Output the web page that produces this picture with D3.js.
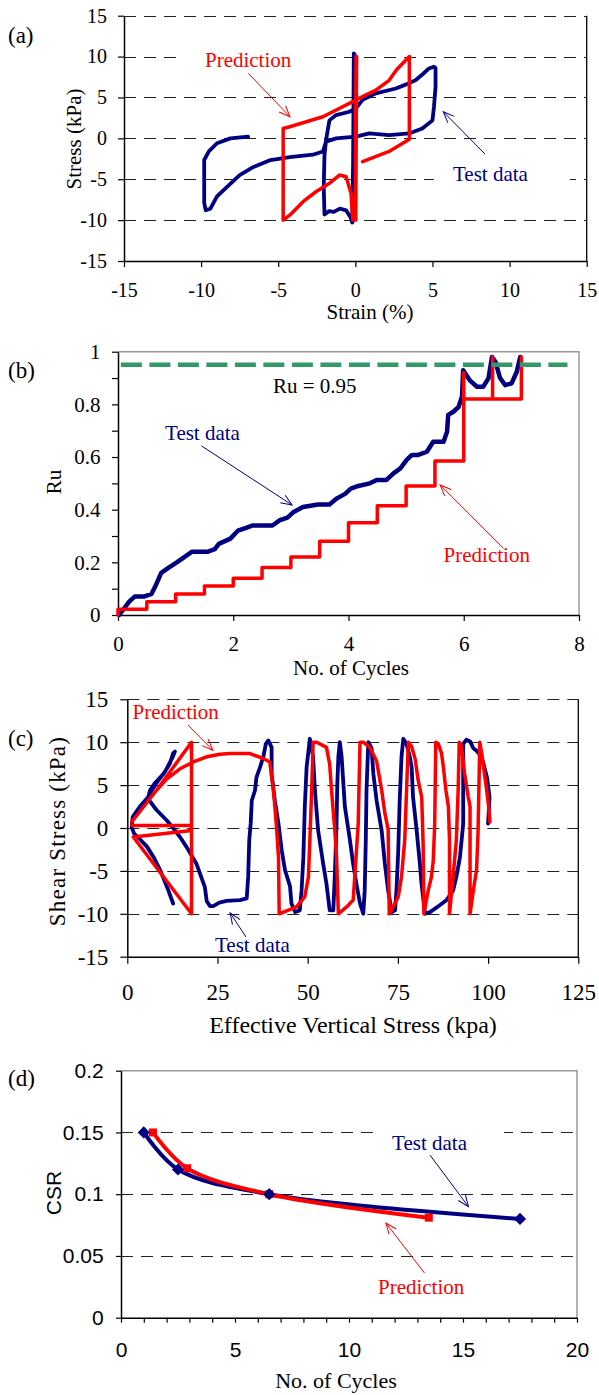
<!DOCTYPE html>
<html>
<head>
<meta charset="utf-8">
<script src="https://cdn.jsdelivr.net/npm/d3@7"></script>
<style>
body { margin: 0; background: #fff; }
svg { display: block; }
</style>
</head>
<body>
<svg id="fig" width="599" height="1395"></svg>
<script>
// (a) stress vs strain
const strainTestA = [0, -0.1, -0.17, -0.05, -0.2, -0.3, -0.6, -1.0, -1.4, -1.7, -2.0, -2.05, -2.0, -1.9, -1.68, -1.25, -0.39, 0.04, 0.47, 1.33, 2.62, 3.3, 3.9, 4.4, 4.77, 5.1, 5.2, 5.2, 5.1, 5.0, 4.34, 3.48, 2.19, 0.9, 0.04, -1.25, -1.9, -2.1, -2.75, -4.25, -5.5, -6.6, -7.5, -8.3, -8.97, -9.4, -9.7, -9.8, -9.8, -9.5, -8.97, -8.1, -6.95];
const stressTestA = [0, 10.4, -10.2, 10.3, -10.3, -9.7, -8.8, -8.6, -9.0, -8.9, -9.3, -6.0, -2.0, -0.2, 2.2, 2.85, 3.25, 3.67, 4.7, 5.5, 6.1, 6.6, 7.1, 7.9, 8.55, 8.75, 8.6, 6.3, 3.9, 2.2, 1.2, 0.6, 0.4, 0.6, 0.2, 0, -0.4, -1.6, -2.0, -2.3, -2.65, -3.5, -4.5, -5.9, -7.1, -8.6, -8.8, -7.9, -2.65, -1.6, -0.6, 0, 0.2];
const strainPredA = [0, 0.05, 0.0, 0.08, 0.03, -0.17, -0.28, -0.6, -1.03, -1.68, -2.53, -3.39, -4.25, -4.68, -4.68, -4.25, -2.1, -0.39, 0.47, 1.33, 2.19, 2.66, 3.5, 3.5, 2.19, 0.47];
const stressPredA = [0, 10, -10, 10, -10, -10, -6.7, -4.7, -4.49, -5.5, -6.5, -7.75, -9.4, -10, 1.2, 1.42, 2.64, 4.28, 5.1, 5.9, 7.1, 8.35, 10, -0.1, -1.6, -2.86];
const ticksA = [-15, -10, -5, 0, 5, 10, 15];

// (b) Ru vs number of cycles
const cyclesTestB = [0.02, 0.09, 0.19, 0.29, 0.45, 0.58, 0.65, 0.75, 0.88, 1.02, 1.15, 1.28, 1.55, 1.68, 1.75, 1.95, 2.08, 2.21, 2.34, 2.68, 2.81, 2.94, 3.04, 3.21, 3.47, 3.67, 3.8, 3.94, 4.04, 4.17, 4.37, 4.49, 4.66, 4.78, 4.9, 5.01, 5.1, 5.21, 5.36, 5.47, 5.65, 5.71, 5.73, 5.82, 5.91, 5.97, 5.99, 6.11, 6.23, 6.34, 6.43, 6.49, 6.55, 6.63, 6.72, 6.83, 6.92, 6.98];
const ruTestB = [0, 0.02, 0.05, 0.07, 0.07, 0.08, 0.11, 0.16, 0.18, 0.2, 0.22, 0.24, 0.24, 0.25, 0.27, 0.29, 0.32, 0.33, 0.34, 0.34, 0.36, 0.37, 0.39, 0.41, 0.42, 0.42, 0.443, 0.46, 0.48, 0.49, 0.5, 0.513, 0.513, 0.538, 0.557, 0.589, 0.608, 0.608, 0.62, 0.658, 0.658, 0.696, 0.76, 0.772, 0.79, 0.83, 0.93, 0.89, 0.867, 0.867, 0.9, 0.98, 0.962, 0.9, 0.873, 0.88, 0.924, 0.98];
const cyclesPredB = [0, 0, 0.5, 0.5, 1, 1, 1.5, 1.5, 2, 2, 2.5, 2.5, 3, 3, 3.5, 3.5, 4, 4, 4.5, 4.5, 5, 5, 5.5, 5.5, 6, 6, 6, 6.5, 6.5, 6.5, 7, 7];
const ruPredB = [0, 0.022, 0.022, 0.05, 0.05, 0.08, 0.08, 0.11, 0.11, 0.14, 0.14, 0.18, 0.18, 0.22, 0.22, 0.28, 0.28, 0.35, 0.35, 0.415, 0.415, 0.49, 0.49, 0.585, 0.585, 0.92, 0.82, 0.82, 0.98, 0.82, 0.82, 0.98];
const ruLimit = 0.95;
const ticksBx = [0, 2, 4, 6, 8];
const ticksBy = d3.range(0, 11).map(k => k / 10);

// (c) shear stress vs effective vertical stress
const sigmaTestC = [12.7, 11.4, 9.1, 7.3, 5.5, 3.7, 1.9, 1.2, 1.5, 3.5, 5.8, 6.3, 7.6, 10, 11.8, 12.7, 13.2, 12.5, 10.5, 8, 6.2, 5.8, 6.3, 8.1, 10.9, 12.7, 14.6, 16.4, 19.2, 21.5, 22, 22.9, 23.8, 25.5, 27.5, 31.2, 33.1, 33.5, 33.8, 34.2, 34.5, 35.4, 35.8, 36.8, 37.7, 38.4, 39.1, 40, 40, 40.9, 41.9, 42.8, 43.7, 45.1, 45.5, 46.5, 47.8, 48.3, 48.8, 49.2, 49.7, 50.6, 51.5, 52, 52.9, 54.3, 55.2, 56.1, 57.1, 57.5, 58, 58.2, 58.5, 58.9, 59.4, 59.9, 60.3, 61.7, 62.6, 63.5, 64.5, 65.4, 65.8, 66.1, 66.3, 66.8, 67.7, 68.2, 69.1, 70.5, 71.4, 72.3, 73.3, 74.2, 74.6, 75.1, 75.5, 76, 76.5, 77.4, 78.3, 78.8, 79.2, 80.2, 81.1, 81.5, 82.5, 83.9, 86.6, 88.5, 90.3, 91.2, 92.2, 93.1, 93.1, 94, 95, 95.9, 96.8, 98.2, 99.7, 100.4, 100];
const tauTestC = [-8.8, -7.3, -4.9, -3.4, -2.2, -1.4, -0.66, 0.1, 1.3, 2.5, 3.6, 4.4, 5.2, 6.3, 7.5, 8.7, 8.9, 8.2, 6.6, 5.2, 4.0, 3.4, 3.1, 2.1, 0.9, 0, -1.05, -2.2, -4.2, -6.9, -8.5, -9.1, -9.1, -8.7, -8.5, -8.4, -8.2, -5.7, -1.4, 0.5, 3.2, 4.4, 5.9, 7.1, 8.3, 9.8, 10.2, 9.4, 6.3, 3.2, 0.5, -2.6, -4.9, -6.8, -8.8, -9.8, -9.6, -7.3, -3.4, 2.5, 7.1, 10.4, 8.3, 4.4, -0.3, -4.2, -6.5, -9.6, -9.6, -5.7, 0.5, 5.1, 8.3, 10, 8.3, 5.1, 2.5, -1.4, -4.2, -6.5, -8.8, -10, -7.3, -1.4, 4.4, 10, 9.3, 6.3, 3.2, -0.3, -4.2, -7.3, -9.8, -9.6, -7.3, -2.6, 3.2, 8.3, 10.4, 9.8, 8.3, 7.1, 3.6, -0.3, -4.2, -6.3, -10, -9.8, -9, -8.4, -7.3, -5.7, -3.4, 0.5, 9.8, 10.3, 10.1, 9.3, 9, 8.3, 5.9, 3.6, 0.5];
const sigmaPredC = [1.2, 17.8, 17.8, 1.66, 17.8, 17.8, 8.1, 1.2, 8.1, 10.9, 14.6, 18.3, 22, 25.7, 28.4, 34, 37.7, 39.5, 40.5, 40.9, 41.4, 41.9, 42.1, 46.9, 49.2, 50.2, 50.6, 51.1, 51.5, 52.5, 55.2, 56.1, 56.6, 57.5, 58, 58.5, 60.8, 62.6, 63.1, 64, 64.5, 65.4, 67.2, 69.1, 70.5, 71.4, 72.3, 72.6, 73.7, 75.1, 76, 76.9, 77.4, 77.9, 78.8, 79.8, 80.6, 81.6, 82.0, 82.2, 83.4, 84.3, 84.8, 85.2, 85.5, 86.2, 87.1, 87.6, 88.3, 89, 89.3, 89.3, 90.3, 91.2, 91.7, 92, 92.6, 93.5, 94.5, 95, 95, 95.9, 96.8, 97.2, 97.7, 98.2, 99, 99.6, 100.2, 100.5];
const tauPredC = [0.3, 0.3, -0.3, -1.05, -10, 10, 4.4, 0.7, 4.4, 5.7, 6.9, 7.7, 8.3, 8.6, 8.67, 8.67, 8.1, 7.7, 4.4, 2.5, -0.2, -3.4, -10, -9.2, -8.0, -5.7, -1.4, 4.4, 10, 10, 9.4, 7.4, 4.4, -0.2, -3.4, -10, -9.2, -8.4, -5.3, 0.5, 10, 10, 9.4, 7.8, 4.4, 1.7, -0.2, -10, -9.2, -8, -5.7, -1.4, 4.4, 10, 9.5, 8.0, 5.6, 3.6, -2, -10, -7.3, -5.7, -3.8, 0.5, 10, 9.8, 8.7, 7.1, 4.4, 2.5, -1.4, -10, -5.7, -1.4, 4.4, 10, 9.6, 6.3, 3.6, 2.5, -10, -7.3, -4.9, -0.7, 10, 8.7, 6.3, 4.4, 2.3, 0.7];
const ticksCx = [0, 25, 50, 75, 100, 125];
const ticksCy = [-15, -10, -5, 0, 5, 10, 15];

// (d) CSR vs number of cycles
const cyclesTestD = [1, 2.5, 6.5, 17.5];
const csrTestD = [0.15, 0.12, 0.10, 0.08];
const cyclesPredD = [1.4, 2.9, 6.5, 13.5];
const csrPredD = [0.15, 0.121, 0.10, 0.081];
const ticksDx = d3.range(0, 21);
const ticksDy = [0, 0.05, 0.1, 0.15, 0.2];

const svg = d3.select('#fig');
const serif = '"Liberation Serif", "Times New Roman", serif';
const sans = '"Liberation Sans", Arial, sans-serif';
const navy = '#000080', red = '#ff0000';

const defs = svg.append('defs');
[['head-navy', navy], ['head-red', red]].forEach(([id, c]) => {
	defs.append('marker').attr('id', id)
		.attr('viewBox', '-12 -6 14 12')
		.attr('markerUnits', 'userSpaceOnUse')
		.attr('markerWidth', 14).attr('markerHeight', 12)
		.attr('refX', 0).attr('refY', 0)
		.attr('orient', 'auto')
		.append('path').attr('d', 'M-11,-4.5L0,0L-11,4.5')
		.attr('fill', 'none').attr('stroke', c).attr('stroke-width', 1);
});

function frame (o) {
	const x = o.x, y = o.y;
	const [xl, xr] = x.range(), [yb, yt] = y.range();
	const g = svg.append('g');
	g.selectAll(null).data(o.grid).join('line')
		.attr('x1', xl).attr('x2', xr)
		.attr('y1', d => Math.round(y(d)) + 0.5).attr('y2', d => Math.round(y(d)) + 0.5)
		.attr('stroke', '#222').attr('stroke-dasharray', '12,8');
	(o.boxes || []).forEach(b => g.append('rect')
		.attr('x', x(b[0])).attr('y', y(b[3]))
		.attr('width', x(b[1]) - x(b[0])).attr('height', y(b[2]) - y(b[3]))
		.attr('fill', '#fff'));
	g.append('path')
		.attr('d', o.gray ? `M${xl},${yt}H${xr}V${yb}` : `M${xr},${yt}V${yb}`)
		.attr('fill', 'none')
		.attr('stroke', o.gray ? '#999' : '#000')
		.attr('stroke-width', o.gray ? 1.5 : 1.3);
	const bottom = g.append('g').attr('transform', `translate(0,${yb})`)
		.call(d3.axisBottom(x).tickValues(o.xTicks).tickFormat(o.xFormat || (d => String(d)))
			.tickSize(o.tick).tickSizeOuter(0).tickPadding(o.xPad));
	const left = g.append('g').attr('transform', `translate(${xl},0)`)
		.call(d3.axisLeft(y).tickValues(o.yTicks).tickFormat(o.yFormat || (d => String(d)))
			.tickSize(o.tick).tickSizeOuter(0).tickPadding(o.yPad));
	[bottom, left].forEach(a => {
		a.attr('font-family', o.font).attr('font-size', o.fs);
		a.select('.domain').attr('stroke', '#000').attr('stroke-width', 1.5);
		a.selectAll('.tick line').attr('stroke', '#000').attr('stroke-width', 1.2);
		a.selectAll('.tick text').attr('fill', '#000');
	});
}

function trace (x, y, xs, ys, color, width, curve) {
	svg.append('path').datum(d3.zip(xs, ys))
		.attr('d', d3.line().x(d => x(d[0])).y(d => y(d[1])).curve(curve || d3.curveLinear))
		.attr('fill', 'none').attr('stroke', color).attr('stroke-width', width)
		.attr('stroke-linejoin', 'round').attr('stroke-linecap', 'round');
}

function note (x, y, at, str, color, fs) {
	svg.append('text').attr('x', x(at[0])).attr('y', y(at[1]))
		.attr('font-family', serif).attr('font-size', fs || 21).attr('fill', color)
		.text(str);
}

function pointer (x, y, from, to, color) {
	svg.append('line')
		.attr('x1', x(from[0])).attr('y1', y(from[1]))
		.attr('x2', x(to[0])).attr('y2', y(to[1]))
		.attr('stroke', color).attr('stroke-width', 1)
		.attr('marker-end', `url(#${color === red ? 'head-red' : 'head-navy'})`);
}

function title (x, y, str, fs, opts = {}) {
	const t = svg.append('text')
		.attr('font-family', opts.font || serif).attr('font-size', fs).attr('fill', '#000')
		.attr('text-anchor', opts.anchor || 'middle')
		.attr('transform', opts.rotate ? `translate(${x},${y}) rotate(-90)` : `translate(${x},${y})`)
		.text(str);
	if (opts.spacing) t.attr('letter-spacing', opts.spacing);
}

// ---------- (a)
const xA = d3.scaleLinear().domain([-15, 15]).range([124, 586.7]);
const yA = d3.scaleLinear().domain([-15, 15]).range([261, 15.7]);
frame({ x: xA, y: yA, grid: ticksA.slice(1), xTicks: ticksA, yTicks: ticksA,
	boxes: [[-11.4, -2.2, 7.6, 10.8], [5.1, 13.9, -6.1, -2.4]],
	tick: 6, xPad: 15.5, yPad: 11, font: serif, fs: 20 });
trace(xA, yA, strainTestA, stressTestA, navy, 3.8);
trace(xA, yA, strainPredA, stressPredA, red, 3.5);
note(xA, yA, [-9.75, 8.7], 'Prediction', red);
pointer(xA, yA, [-6.94, 7.95], [-4.24, 2.64], red);
note(xA, yA, [6.33, -5.2], 'Test data', navy);
pointer(xA, yA, [8.4, -1.9], [5.7, 3.26], navy);
title(8, 43, '(a)', 23, { anchor: 'start' });
title(80.5, 139, 'Stress (kPa)', 21, { rotate: true });
title(370, 319, 'Strain (%)', 21);

// ---------- (b)
const xB = d3.scaleLinear().domain([0, 8]).range([118, 579]);
const yB = d3.scaleLinear().domain([0, 1]).range([615, 351.7]);
frame({ x: xB, y: yB, grid: [], xTicks: ticksBx, yTicks: ticksBy, gray: true,
	yFormat: d => (Math.round(d * 10) % 2 ? '' : String(Math.round(d * 10) / 10)),
	tick: 6, xPad: 15, yPad: 11.5, font: serif, fs: 21 });
trace(xB, yB, cyclesTestB, ruTestB, navy, 4.5);
trace(xB, yB, cyclesPredB, ruPredB, red, 3.5);
svg.append('line')
	.attr('x1', xB(0.05)).attr('x2', xB(7.8))
	.attr('y1', yB(ruLimit)).attr('y2', yB(ruLimit))
	.attr('stroke', '#339966').attr('stroke-width', 4.5).attr('stroke-dasharray', '21,7.5');
note(xB, yB, [2.69, 0.843], 'Ru = 0.95', '#000');
note(xB, yB, [0.816, 0.665], 'Test data', navy);
pointer(xB, yB, [1.45, 0.642], [3.02, 0.418], navy);
note(xB, yB, [5.65, 0.201], 'Prediction', red);
pointer(xB, yB, [6.69, 0.253], [5.59, 0.494], red);
title(8, 378, '(b)', 23, { anchor: 'start' });
title(61, 482, 'Ru', 21, { rotate: true });
title(351, 675, 'No. of Cycles', 21);

// ---------- (c)
const xC = d3.scaleLinear().domain([0, 125]).range([127.3, 578.3]);
const yC = d3.scaleLinear().domain([-15, 15]).range([956.7, 699.3]);
frame({ x: xC, y: yC, grid: ticksCy.slice(1), xTicks: ticksCx, yTicks: ticksCy,
	tick: 7, xPad: 20, yPad: 12, font: serif, fs: 23 });
trace(xC, yC, sigmaTestC, tauTestC, navy, 3.8);
trace(xC, yC, sigmaPredC, tauPredC, red, 3.5);
note(xC, yC, [1.44, 12.67], 'Prediction', red);
pointer(xC, yC, [16.8, 12.0], [23.7, 9.06], red);
note(xC, yC, [24.3, -14.4], 'Test data', navy);
pointer(xC, yC, [32.9, -12.7], [28.5, -9.9], navy);
title(8, 746, '(c)', 23, { anchor: 'start' });
title(65, 831, 'Shear Stress (kPa)', 23, { rotate: true, spacing: 1.2 });
title(353, 1033, 'Effective Vertical Stress (kpa)', 24);

// ---------- (d)
const xD = d3.scaleLinear().domain([0, 20]).range([121, 577]);
const yD = d3.scaleLinear().domain([0, 0.2]).range([1317.7, 1070.7]);
frame({ x: xD, y: yD, grid: [0.05, 0.1, 0.15], xTicks: ticksDx, yTicks: ticksDy, gray: true,
	boxes: [[11.1, 16.8, 0.129, 0.156]],
	xFormat: d => (d % 5 ? '' : String(d)),
	tick: 5, xPad: 19.5, yPad: 12.3, font: sans, fs: 21 });
const smooth = d3.curveCatmullRom.alpha(0.5);
trace(xD, yD, cyclesTestD, csrTestD, navy, 4, smooth);
trace(xD, yD, cyclesPredD, csrPredD, red, 4, smooth);
svg.append('g').selectAll('path').data(d3.zip(cyclesPredD, csrPredD)).join('path')
	.attr('transform', d => `translate(${xD(d[0])},${yD(d[1])})`)
	.attr('d', d3.symbol(d3.symbolSquare, 64))
	.attr('fill', red);
svg.append('g').selectAll('path').data(d3.zip(cyclesTestD, csrTestD)).join('path')
	.attr('transform', d => `translate(${xD(d[0])},${yD(d[1])})`)
	.attr('d', d3.symbol(d3.symbolDiamond2, 95))
	.attr('fill', navy);
note(xD, yD, [11.89, 0.1358], 'Test data', navy);
pointer(xD, yD, [13.55, 0.1317], [15.24, 0.0899], navy);
note(xD, yD, [11.27, 0.0192], 'Prediction', red);
pointer(xD, yD, [13.31, 0.0362], [11.62, 0.0767], red);
title(8, 1086, '(d)', 23, { anchor: 'start' });
title(61.4, 1193, 'CSR', 21, { rotate: true, font: sans });
title(336, 1388, 'No. of Cycles', 22);
</script>
</body>
</html>
